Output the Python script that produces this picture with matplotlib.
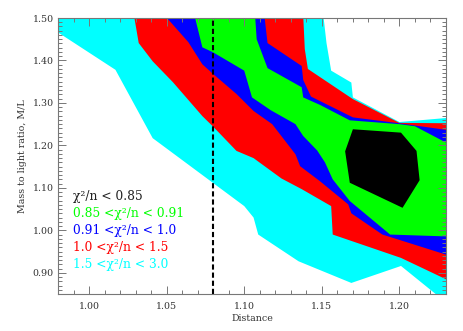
import matplotlib
matplotlib.use('Agg')
from matplotlib import pyplot as plt
from matplotlib.ticker import MultipleLocator, FormatStrFormatter

plt.rcParams['font.family'] = 'DejaVu Serif'
plt.rcParams['mathtext.fontset'] = 'dejavuserif'

# contour boundaries in (Distance, M/L), traced from upper left to lower right
cyan_lo_x = [0.975, 1.017, 1.041, 1.100, 1.106, 1.109, 1.135, 1.169, 1.201, 1.225]
cyan_lo_y = [1.478, 1.378, 1.217, 1.057, 1.030, 0.990, 0.927, 0.876, 0.916, 0.845]
cyan_hi_x = [1.151, 1.153, 1.156, 1.169, 1.170, 1.200, 1.235]
cyan_hi_y = [1.505, 1.441, 1.376, 1.348, 1.313, 1.255, 1.266]

red_lo_x = [1.029, 1.032, 1.041, 1.054, 1.073, 1.080, 1.095, 1.106, 1.124, 1.137,
            1.156, 1.157, 1.201, 1.235]
red_lo_y = [1.505, 1.441, 1.398, 1.349, 1.269, 1.244, 1.187, 1.170, 1.122, 1.097,
            1.057, 0.990, 0.935, 0.876]
red_hi_x = [1.138, 1.139, 1.141, 1.170, 1.200, 1.235]
red_hi_y = [1.505, 1.427, 1.380, 1.309, 1.253, 1.252]

blue_lo_x = [1.049, 1.064, 1.073, 1.080, 1.095, 1.106, 1.118, 1.133, 1.136, 1.149,
             1.167, 1.169, 1.189, 1.235]
blue_lo_y = [1.505, 1.443, 1.391, 1.368, 1.321, 1.281, 1.250, 1.179, 1.151, 1.115,
             1.061, 1.040, 0.990, 0.937]
blue_hi_x = [1.113, 1.115, 1.137, 1.138, 1.143, 1.170, 1.200, 1.235]
blue_hi_y = [1.505, 1.441, 1.387, 1.354, 1.315, 1.266, 1.252, 1.234]

green_lo_x = [1.068, 1.073, 1.080, 1.100, 1.105, 1.117, 1.133, 1.138, 1.147, 1.152,
              1.157, 1.168, 1.194, 1.235]
green_lo_y = [1.505, 1.431, 1.419, 1.376, 1.313, 1.283, 1.250, 1.222, 1.188, 1.160,
              1.120, 1.069, 0.990, 0.985]
green_hi_x = [1.107, 1.108, 1.115, 1.137, 1.138, 1.149, 1.168, 1.200, 1.210, 1.235]
green_hi_y = [1.505, 1.450, 1.382, 1.337, 1.313, 1.295, 1.259, 1.250, 1.245, 1.197]

black_x = [1.170, 1.201, 1.211, 1.213, 1.202, 1.168, 1.165]
black_y = [1.238, 1.230, 1.187, 1.118, 1.053, 1.112, 1.186]

labels = ['χ²/n < 0.85', '0.85 <χ²/n < 0.91', '0.91 <χ²/n < 1.0',
          '1.0 <χ²/n < 1.5', '1.5 <χ²/n < 3.0']
colors = ['#222222', '#00ff00', '#0000ff', '#ff0000', '#00ffff']


def band(lo_x, lo_y, hi_x, hi_y):
    xs = lo_x + [1.24] + hi_x[::-1] + [0.97]
    ys = lo_y + [0.84] + hi_y[::-1] + [1.51]
    return xs, ys


fig = plt.figure(figsize=(4.63, 3.31), dpi=100)
ax = fig.add_axes([0.1253, 0.1118, 0.838, 0.8338])

bands = [(cyan_lo_x, cyan_lo_y, cyan_hi_x, cyan_hi_y, colors[4]),
         (red_lo_x, red_lo_y, red_hi_x, red_hi_y, colors[3]),
         (blue_lo_x, blue_lo_y, blue_hi_x, blue_hi_y, colors[2]),
         (green_lo_x, green_lo_y, green_hi_x, green_hi_y, colors[1])]
for lx, ly, hx, hy, c in bands:
    xs, ys = band(lx, ly, hx, hy)
    ax.fill(xs, ys, color=c, lw=0)
ax.fill(black_x, black_y, color='black', lw=0)

ax.axvline(1.08, color='black', ls=(0, (2.5, 1.4)), lw=1.5)

for i, (t, c) in enumerate(zip(labels, colors)):
    ax.text(0.038, 0.341 - i * 0.0613, t, color=c, fontsize=8.8,
            transform=ax.transAxes, va='baseline', ha='left')

ax.set_xlim(0.98, 1.23)
ax.set_ylim(0.85, 1.50)
ax.xaxis.set_major_locator(MultipleLocator(0.05))
ax.xaxis.set_minor_locator(MultipleLocator(0.01))
ax.yaxis.set_major_locator(MultipleLocator(0.1))
ax.yaxis.set_minor_locator(MultipleLocator(0.01))
ax.xaxis.set_major_formatter(FormatStrFormatter('%.2f'))
ax.yaxis.set_major_formatter(FormatStrFormatter('%.2f'))
ax.tick_params(which='both', direction='in', top=True, right=True,
               color='#777777', labelcolor='#333333', labelsize=6.8, width=0.7)
ax.tick_params(which='major', length=6, pad=6)
ax.tick_params(which='minor', length=3)
ax.tick_params(axis='y', which='major', pad=3)
for s in ax.spines.values():
    s.set_color('#777777')
    s.set_linewidth(0.8)

ax.set_xlabel('Distance', fontsize=6.8, color='#333333', labelpad=2)
ax.set_ylabel('Mass to light ratio, M/L', fontsize=6.8, color='#333333', labelpad=4)

plt.savefig('out.png', dpi=100)
plt.close(fig)
